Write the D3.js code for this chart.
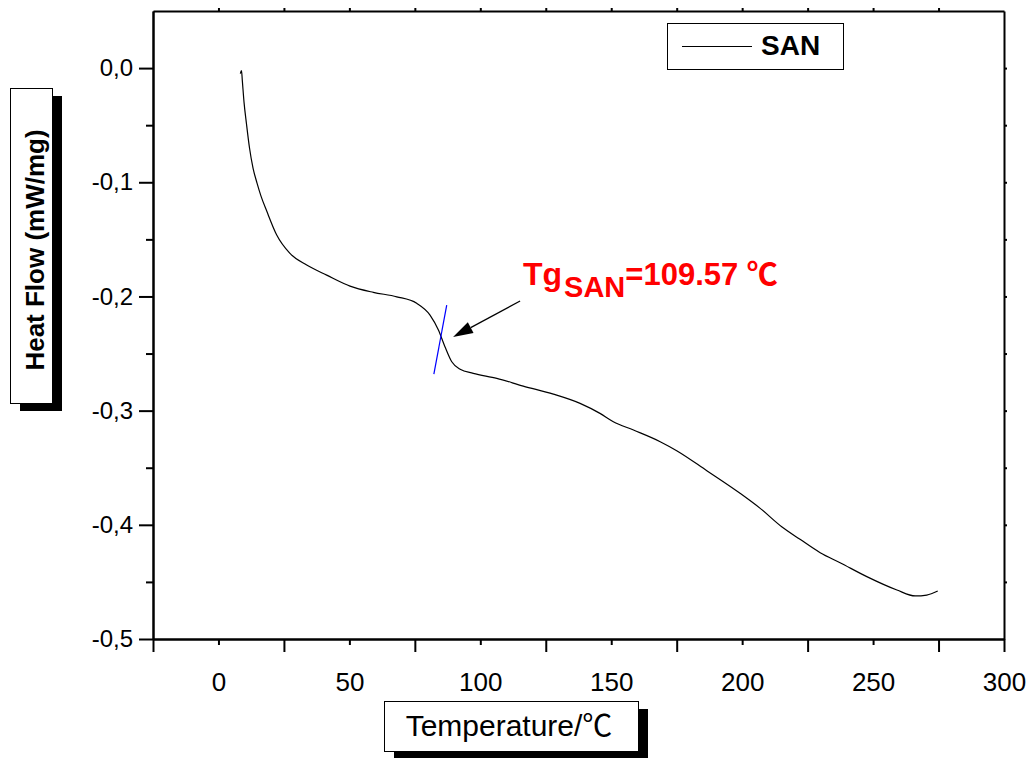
<!DOCTYPE html>
<html>
<head>
<meta charset="utf-8">
<script src="https://cdn.jsdelivr.net/npm/d3@7"></script>
<style>
  body { margin: 0; background: #fff; }
  text { font-family: Arial, "Liberation Sans", "Noto Sans CJK SC", sans-serif; }
</style>
</head>
<body>
<svg id="chart" width="1034" height="758"></svg>
<script>
// DSC trace of SAN: temperature (°C) and heat flow (mW/mg)
const temperature = [33.35, 33.8, 34.1, 34.76, 35.71, 36.86, 38.2, 39.73, 41.25, 43.43, 47.25, 52.3, 58.7,
  66.35, 75.25, 84.15, 93.1, 100.7, 105.8, 109.0, 111.5, 114.1, 117.3, 122.3, 131.3, 141.4, 152.9,
  163.1, 170.7, 175.8, 183.5, 193.7, 200.0, 211.5, 224.2, 231.9, 240.1, 247.1, 254.8, 262.4, 272.6,
  284.1, 291.1, 295.5, 299.7];
const heatFlow = [-0.0048, -0.0022, -0.0105, -0.0298, -0.049, -0.07, -0.0876, -0.1007, -0.1121,
  -0.1252, -0.1462, -0.1623, -0.1725, -0.1813, -0.1909, -0.1964, -0.2003, -0.206, -0.2163, -0.2294,
  -0.244, -0.2572, -0.2638, -0.2673, -0.2717, -0.2785, -0.2855, -0.2936, -0.3024, -0.3097, -0.317,
  -0.3272, -0.3351, -0.3526, -0.3724, -0.3856, -0.4017, -0.4127, -0.4244, -0.4332, -0.4454, -0.4571,
  -0.4623, -0.4615, -0.458];

// Axis ticks and labels
const xMajorTicks = [0, 50, 100, 150, 200, 250, 300, 325];
const xMinorTicks = [25, 75, 125, 175, 225, 275];
const xTickLabels = [0, 50, 100, 150, 200, 250, 300];
const xTopTicks = d3.range(25, 325, 25);
const yMajorTicks = [0, -0.1, -0.2, -0.3, -0.4, -0.5];
const yMinorTicks = [-0.05, -0.15, -0.25, -0.35, -0.45];
const yRightTicks = d3.range(-0.45, 0.05, 0.05);

// Glass transition annotation
const seriesName = "SAN";
const tg = 109.57;
const tgTangentT = [tg + 2.6, tg - 2.3];
const tgTangentHF = [-0.2075, -0.268];
const arrowFrom = [140.2, -0.204];
const arrowTo = [114.6, -0.2356];
const tgLabelAt = [141.3, -0.19];

const svg = d3.select("#chart");
const x = d3.scaleLinear().domain([0, 325]).range([153, 1004]);
const y = d3.scaleLinear().domain([-0.5, 0.05]).range([639, 11]);

const commaFmt = d3.formatLocale({ decimal: ",", thousands: ".", grouping: [3], currency: ["", ""], minus: "-" }).format(".1f");

function styleAxis(g) {
  g.select(".domain").attr("stroke", "#000").attr("stroke-width", 2);
  g.selectAll(".tick line").attr("stroke", "#000").attr("stroke-width", 2);
  g.selectAll("text").attr("fill", "#000");
}

// bottom axis: long ticks, short ticks, labels half a step right of the long ticks
svg.append("g").attr("transform", `translate(0,${y(-0.5)})`)
  .call(d3.axisBottom(x).tickValues(xMajorTicks).tickSize(13).tickSizeOuter(0).tickFormat(""))
  .call(styleAxis);
svg.append("g").attr("transform", `translate(0,${y(-0.5)})`)
  .call(d3.axisBottom(x).tickValues(xMinorTicks).tickSize(6).tickSizeOuter(0).tickFormat(""))
  .call(styleAxis);
const xLab = svg.append("g").attr("transform", `translate(0,${y(-0.5)})`)
  .call(d3.axisBottom(x).tickValues(xTickLabels.map(v => v + 25)).tickSize(0).tickPadding(34)
    .tickFormat(d => String(d - 25)));
xLab.select(".domain").remove();
xLab.selectAll("text").attr("font-size", 26).attr("fill", "#000");

// top axis
svg.append("g").attr("transform", `translate(0,${y(0.05)})`)
  .call(d3.axisTop(x).tickValues(xTopTicks).tickSize(3).tickSizeOuter(0).tickFormat(""))
  .call(styleAxis);

// left axis
const yAx = svg.append("g").attr("transform", `translate(${x(0)},0)`)
  .call(d3.axisLeft(y).tickValues(yMajorTicks).tickSize(14).tickSizeOuter(0).tickPadding(6)
    .tickFormat(d => commaFmt(d)))
  .call(styleAxis);
yAx.selectAll("text").attr("font-size", 24);
svg.append("g").attr("transform", `translate(${x(0)},0)`)
  .call(d3.axisLeft(y).tickValues(yMinorTicks).tickSize(7).tickSizeOuter(0).tickFormat(""))
  .call(styleAxis);

// right axis
svg.append("g").attr("transform", `translate(${x(325)},0)`)
  .call(d3.axisRight(y).tickValues(yRightTicks).tickSize(3).tickSizeOuter(0).tickFormat(""))
  .call(styleAxis);

// curve
const pts = temperature.map((t, i) => [t, heatFlow[i]]);
svg.append("path")
  .datum(pts)
  .attr("fill", "none")
  .attr("stroke", "#000")
  .attr("stroke-width", 1.2)
  .attr("d", d3.line().x(d => x(d[0])).y(d => y(d[1])).curve(d3.curveMonotoneX));

// tangent mark at Tg
svg.append("line")
  .attr("x1", x(tgTangentT[0])).attr("y1", y(tgTangentHF[0]))
  .attr("x2", x(tgTangentT[1])).attr("y2", y(tgTangentHF[1]))
  .attr("stroke", "#0000ff").attr("stroke-width", 1.2);

// arrow pointing at Tg
const ax0 = x(arrowFrom[0]), ay0 = y(arrowFrom[1]);
const ax1 = x(arrowTo[0]), ay1 = y(arrowTo[1]);
const ang = Math.atan2(ay1 - ay0, ax1 - ax0);
const headLen = 20, headW = 6;
const bx = ax1 - headLen * Math.cos(ang), by = ay1 - headLen * Math.sin(ang);
svg.append("line")
  .attr("x1", ax0).attr("y1", ay0).attr("x2", bx).attr("y2", by)
  .attr("stroke", "#000").attr("stroke-width", 1.2);
svg.append("path")
  .attr("d", `M${ax1},${ay1}L${bx + headW * Math.sin(ang)},${by - headW * Math.cos(ang)}L${bx - headW * Math.sin(ang)},${by + headW * Math.cos(ang)}Z`)
  .attr("fill", "#000");

// Tg label
const tgText = svg.append("text")
  .attr("x", x(tgLabelAt[0])).attr("y", y(tgLabelAt[1]))
  .attr("fill", "#ff0000").attr("font-weight", "bold");
tgText.append("tspan").attr("font-size", 32).text("Tg");
tgText.append("tspan").attr("font-size", 29).attr("dx", 2).attr("dy", 12).text(seriesName);
tgText.append("tspan").attr("font-size", 31).attr("dy", -12).text(`=${tg} ℃`);

// legend
const leg = svg.append("g");
leg.append("rect").attr("x", 667.5).attr("y", 23.5).attr("width", 176).attr("height", 46)
  .attr("fill", "#fff").attr("stroke", "#000").attr("stroke-width", 1);
leg.append("line").attr("x1", 682).attr("x2", 752).attr("y1", 46.5).attr("y2", 46.5)
  .attr("stroke", "#000").attr("stroke-width", 1.2);
leg.append("text").attr("x", 761).attr("y", 55).attr("font-size", 28).attr("font-weight", "bold")
  .attr("fill", "#000").text(seriesName);

// x-axis title with drop shadow
svg.append("rect").attr("x", 394).attr("y", 709).attr("width", 254).attr("height", 50).attr("fill", "#000");
svg.append("rect").attr("x", 384.5).attr("y", 701.5).attr("width", 254).attr("height", 50)
  .attr("fill", "#fff").attr("stroke", "#000").attr("stroke-width", 1);
svg.append("text").attr("x", 509).attr("y", 736).attr("text-anchor", "middle")
  .attr("font-size", 30).attr("fill", "#000").text("Temperature/℃");

// y-axis title with drop shadow
svg.append("rect").attr("x", 20).attr("y", 96).attr("width", 42).attr("height", 315).attr("fill", "#000");
svg.append("rect").attr("x", 10.5).attr("y", 88.5).attr("width", 42).attr("height", 315)
  .attr("fill", "#fff").attr("stroke", "#000").attr("stroke-width", 1);
svg.append("text").attr("transform", "translate(44,250) rotate(-90)").attr("text-anchor", "middle")
  .attr("font-size", 26).attr("font-weight", "bold").attr("fill", "#000").text("Heat Flow (mW/mg)");
</script>
</body>
</html>
